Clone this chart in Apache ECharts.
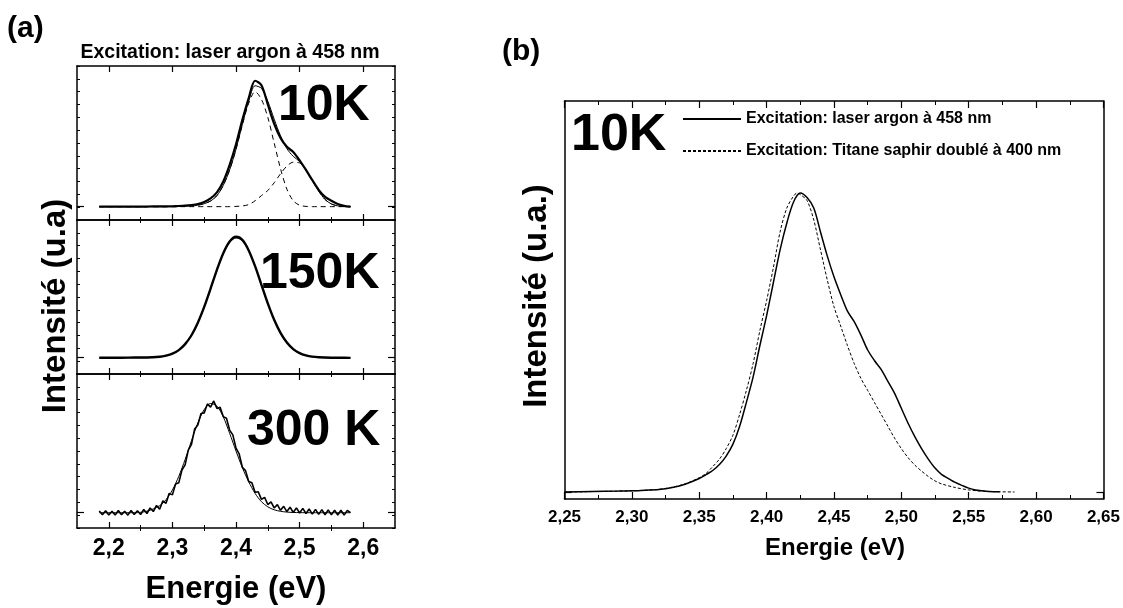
<!DOCTYPE html>
<html><head><meta charset="utf-8">
<script src="https://cdn.jsdelivr.net/npm/echarts@6/dist/echarts.min.js"></script>
<style>html,body{margin:0;padding:0;background:#fff}#c{width:1123px;height:608px}</style>
</head><body><div id="c"></div>
<script>
// ---------- Panel (a) data ----------
const energyA = [2.185,2.20,2.22,2.24,2.26,2.28,2.29,2.30,2.31,2.32,2.33,2.34,2.35,2.36,2.37,2.38,2.39,2.40,2.41,2.42,2.43,2.44,2.45,2.46,2.47,2.48,2.49,2.50,2.51,2.52,2.53,2.54,2.55,2.56,2.57,2.58];
const exp10K   = [0.104,0.104,0.104,0.105,0.105,0.106,0.106,0.107,0.109,0.112,0.117,0.125,0.14,0.168,0.215,0.30,0.43,0.59,0.78,0.95,1.085,1.05,0.90,0.75,0.64,0.57,0.53,0.465,0.39,0.31,0.235,0.18,0.15,0.125,0.11,0.104];
const fit10K   = [0.104,0.104,0.104,0.104,0.104,0.104,0.104,0.104,0.105,0.107,0.11,0.116,0.127,0.148,0.19,0.27,0.39,0.552,0.746,0.926,1.046,1.026,0.926,0.786,0.656,0.556,0.496,0.456,0.392,0.31,0.225,0.16,0.125,0.11,0.105,0.104];
const comp1_10K= [0.104,0.104,0.104,0.104,0.104,0.104,0.104,0.104,0.105,0.107,0.11,0.116,0.127,0.148,0.19,0.27,0.39,0.55,0.74,0.91,1.0,0.94,0.80,0.60,0.40,0.24,0.15,0.115,0.106,0.104,0.104,0.104,0.104,0.104,0.104,0.104];
const comp2_10K= [0.104,0.104,0.104,0.104,0.104,0.104,0.104,0.104,0.104,0.104,0.104,0.104,0.104,0.104,0.104,0.104,0.104,0.106,0.11,0.12,0.15,0.19,0.23,0.29,0.36,0.42,0.45,0.445,0.39,0.31,0.225,0.16,0.125,0.11,0.105,0.104];
const exp150K  = [0.127,0.127,0.127,0.128,0.128,0.134,0.143,0.158,0.186,0.233,0.302,0.40,0.523,0.665,0.812,0.941,1.032,1.069,1.045,0.963,0.84,0.695,0.55,0.422,0.32,0.245,0.194,0.163,0.145,0.135,0.13,0.128,0.127,0.127,0.127,0.126];
const fit150K  = [0.127,0.127,0.127,0.127,0.128,0.133,0.142,0.157,0.185,0.232,0.30,0.398,0.52,0.66,0.808,0.938,1.025,1.06,1.04,0.96,0.838,0.69,0.548,0.42,0.315,0.242,0.19,0.16,0.143,0.134,0.13,0.128,0.127,0.127,0.127,0.127];
const fit300K  = [0.119,0.119,0.119,0.119,0.131,0.174,0.221,0.296,0.402,0.534,0.68,0.818,0.923,0.97,0.95,0.866,0.738,0.60,0.47,0.36,0.27,0.205,0.165,0.142,0.13,0.124,0.121,0.12,0.119,0.119,0.119,0.119,0.119,0.119,0.119,0.119];
const energy300 = [2.185,2.19,2.195,2.20,2.205,2.21,2.215,2.22,2.225,2.23,2.235,2.24,2.245,2.25,2.255,2.26,2.265,2.27,2.275,2.28,2.285,2.29,2.295,2.30,2.305,2.31,2.315,2.32,2.325,2.33,2.335,2.34,2.345,2.35,2.355,2.36,2.365,2.37,2.375,2.38,2.385,2.39,2.395,2.40,2.405,2.41,2.415,2.42,2.425,2.43,2.435,2.44,2.445,2.45,2.455,2.46,2.465,2.47,2.475,2.48,2.485,2.49,2.495,2.50,2.505,2.51,2.515,2.52,2.525,2.53,2.535,2.54,2.545,2.55,2.555,2.56,2.565,2.57,2.575,2.58];
const exp300K  = [0.132,0.104,0.135,0.102,0.13,0.101,0.136,0.104,0.131,0.1,0.137,0.106,0.135,0.105,0.145,0.113,0.156,0.128,0.176,0.146,0.212,0.192,0.27,0.258,0.342,0.352,0.452,0.492,0.607,0.652,0.772,0.802,0.892,0.897,0.967,0.942,0.99,0.932,0.94,0.868,0.855,0.763,0.726,0.623,0.577,0.473,0.447,0.363,0.352,0.278,0.282,0.223,0.239,0.183,0.203,0.156,0.182,0.138,0.169,0.128,0.162,0.121,0.157,0.117,0.153,0.113,0.148,0.108,0.145,0.106,0.143,0.103,0.141,0.102,0.139,0.101,0.138,0.1,0.137,0.12];
const ticksA = [2.2,2.3,2.4,2.5,2.6];
const minorTicksA = [2.25,2.35,2.45,2.55];
const baselinesA = [0.104,0.127,0.119];
const tempLabelsA = ['10K','150K','300 K'];

// ---------- Panel (b) data ----------
const energyArgon = [2.25,2.27,2.29,2.30,2.31,2.32,2.33,2.34,2.35,2.355,2.36,2.365,2.37,2.375,2.38,2.385,2.39,2.395,2.40,2.405,2.41,2.415,2.42,2.425,2.43,2.435,2.44,2.445,2.45,2.455,2.46,2.465,2.47,2.475,2.48,2.485,2.49,2.495,2.50,2.505,2.51,2.515,2.52,2.525,2.53,2.535,2.54,2.545,2.55,2.555,2.56,2.565,2.573];
const argon458 = [0.0,0.002,0.003,0.004,0.006,0.008,0.015,0.027,0.045,0.058,0.072,0.092,0.12,0.16,0.22,0.30,0.385,0.49,0.59,0.70,0.81,0.90,0.97,1.0,0.985,0.95,0.87,0.79,0.72,0.66,0.605,0.57,0.525,0.475,0.44,0.41,0.37,0.33,0.28,0.23,0.185,0.145,0.11,0.08,0.058,0.045,0.032,0.022,0.013,0.007,0.004,0.002,0.001];
const energyTitane = [2.25,2.30,2.32,2.33,2.34,2.35,2.355,2.36,2.365,2.37,2.375,2.38,2.385,2.39,2.395,2.40,2.405,2.41,2.415,2.42,2.4225,2.425,2.43,2.435,2.44,2.445,2.45,2.455,2.46,2.465,2.47,2.475,2.48,2.485,2.49,2.495,2.50,2.505,2.51,2.515,2.52,2.525,2.53,2.54,2.55,2.56,2.57,2.584];
const titane400 = [0.0,0.004,0.009,0.016,0.028,0.048,0.062,0.085,0.11,0.145,0.19,0.26,0.34,0.43,0.54,0.64,0.75,0.87,0.95,0.99,1.0,0.995,0.975,0.91,0.81,0.71,0.62,0.555,0.49,0.43,0.38,0.34,0.30,0.26,0.22,0.18,0.145,0.115,0.09,0.07,0.052,0.037,0.027,0.015,0.007,0.003,0.001,0.0];
const seriesNamesB = ['Excitation: laser argon à 458 nm','Excitation: Titane saphir doublé à 400 nm'];

const FONT = '"Liberation Sans", Arial, Helvetica, sans-serif';
const pair = (xs, ys) => xs.map((x, i) => [x, ys[i]]);

const grids = [
  {left: 77, width: 318, top: 66, height: 154},
  {left: 77, width: 318, top: 220, height: 154},
  {left: 77, width: 318, top: 374, height: 154},
  {left: 564.5, width: 539.5, top: 101, height: 398}
];

const xAxes = [], yAxes = [];
const lineBlack = {color: '#000', width: 1.5};
for (let i = 0; i < 3; i++) {
  ['bottom', 'top'].forEach(pos => {
    xAxes.push({
      gridIndex: i, type: 'value', min: 2.15, max: 2.65, position: pos,
      axisLine: {show: true, onZero: false, lineStyle: lineBlack},
      axisTick: {show: true, inside: true, length: 6, customValues: ticksA, lineStyle: {color: '#000', width: 1.2}},
      axisLabel: {show: (i === 2 && pos === 'bottom'), customValues: ticksA, margin: 9,
        formatter: v => v.toFixed(1).replace('.', ','),
        fontFamily: FONT, fontWeight: 'bold', fontSize: 23, color: '#000'},
      splitLine: {show: false}
    });
    xAxes.push({
      gridIndex: i, type: 'value', min: 2.15, max: 2.65, position: pos,
      axisLine: {show: false},
      axisTick: {show: true, inside: true, length: 3, customValues: minorTicksA, lineStyle: {color: '#000', width: 1}},
      axisLabel: {show: false, customValues: minorTicksA},
      splitLine: {show: false}
    });
  });
  ['left', 'right'].forEach(pos => {
    yAxes.push({
      gridIndex: i, type: 'value', min: 0, max: 1.2, interval: 0.1, position: pos,
      axisLine: {show: true, onZero: false, lineStyle: lineBlack},
      axisTick: {show: true, inside: true, length: 3, lineStyle: {color: '#000', width: 1}},
      axisLabel: {show: false}, splitLine: {show: false}
    });
    yAxes.push({
      gridIndex: i, type: 'value', min: 0, max: 1.2, position: pos,
      axisLine: {show: false},
      axisTick: {show: true, inside: true, length: 7, customValues: [baselinesA[i]], lineStyle: {color: '#000', width: 1.2}},
      axisLabel: {show: false, customValues: [baselinesA[i]]}, splitLine: {show: false}
    });
  });
}
['bottom', 'top'].forEach(pos => {
  xAxes.push({
    gridIndex: 3, type: 'value', min: 2.25, max: 2.65, interval: 0.05, position: pos,
    axisLine: {show: true, onZero: false, lineStyle: lineBlack},
    axisTick: {show: true, inside: true, length: 7, lineStyle: {color: '#000', width: 1.2}},
    minorTick: {show: true, splitNumber: 2, length: 4, lineStyle: {color: '#000', width: 1}},
    axisLabel: {show: pos === 'bottom', margin: 10, formatter: v => v.toFixed(2).replace('.', ','),
      fontFamily: FONT, fontWeight: 'bold', fontSize: 17, color: '#000'},
    splitLine: {show: false}
  });
});
['left', 'right'].forEach(pos => {
  yAxes.push({
    gridIndex: 3, type: 'value', min: -0.0234, max: 1.308, position: pos,
    axisLine: {show: true, onZero: false, lineStyle: lineBlack},
    axisTick: {show: true, inside: true, length: 7, customValues: [0], lineStyle: {color: '#000', width: 1.2}},
    axisLabel: {show: false, customValues: [0]}, splitLine: {show: false}
  });
});

const series = [];
function addLine(name, grid, xs, ys, style, smooth) {
  const xi = grid < 3 ? 4 * grid : 12;
  const yi = grid < 3 ? 4 * grid : 12;
  series.push({
    name, type: 'line', xAxisIndex: xi, yAxisIndex: yi,
    data: pair(xs, ys), showSymbol: false, symbol: 'none', smooth: smooth,
    lineStyle: Object.assign({color: '#000'}, style), itemStyle: {color: '#000'},
    silent: true, animation: false, z: 3
  });
}
addLine('comp1 10K', 0, energyA, comp1_10K, {width: 1, type: [5, 4]}, 0.3);
addLine('comp2 10K', 0, energyA, comp2_10K, {width: 1, type: [5, 4]}, 0.3);
addLine('fit 10K', 0, energyA, fit10K, {width: 1}, 0.3);
addLine('exp 10K', 0, energyA, exp10K, {width: 2.2}, 0.3);
addLine('fit 150K', 1, energyA, fit150K, {width: 1}, 0.3);
addLine('exp 150K', 1, energyA, exp150K, {width: 2.4}, 0.3);
addLine('exp 300K', 2, energy300, exp300K, {width: 1.6}, false);
addLine('fit 300K', 2, energyA, fit300K, {width: 1}, 0.3);
addLine(seriesNamesB[0], 3, energyArgon, argon458, {width: 1.5}, 0.3);
addLine(seriesNamesB[1], 3, energyTitane, titane400, {width: 1, type: [3, 2]}, 0.3);

function txt(text, x, y, size, align, extra) {
  return Object.assign({
    type: 'text', x, y, silent: true,
    style: {text, fill: '#000', font: 'bold ' + size + 'px ' + FONT,
      textAlign: align || 'left', textVerticalAlign: 'middle'}
  }, extra || {});
}
const graphics = [
  txt('(a)', 7, 29, 30),
  txt('(b)', 502, 52, 30),
  txt('Excitation: laser argon à 458 nm', 230, 53, 19.5, 'center'),
  txt(tempLabelsA[0], 278, 106, 50),
  txt(tempLabelsA[1], 260, 274, 50),
  txt(tempLabelsA[2], 247, 431, 50),
  txt('10K', 571, 136, 52),
  txt('Intensité (u.a)', 56, 306, 33, 'center', {rotation: Math.PI / 2}),
  txt('Intensité (u.a.)', 537, 296, 33, 'center', {rotation: Math.PI / 2}),
  txt('Energie (eV)', 236, 589, 31, 'center'),
  txt('Energie (eV)', 835, 548, 24, 'center')
];

const chart = echarts.init(document.getElementById('c'), null, {renderer: 'canvas'});
chart.setOption({
  backgroundColor: '#fff',
  animation: false,
  grid: grids,
  xAxis: xAxes,
  yAxis: yAxes,
  legend: {
    data: seriesNamesB, orient: 'vertical', left: 682, top: 111,
    itemWidth: 58, itemHeight: 10, itemGap: 16, padding: 0,
    selectedMode: false,
    itemStyle: {opacity: 0},
    textStyle: {fontFamily: FONT, fontWeight: 'bold', fontSize: 16, color: '#000', lineHeight: 16}
  },
  series,
  graphic: graphics
});
</script>
</body></html>
